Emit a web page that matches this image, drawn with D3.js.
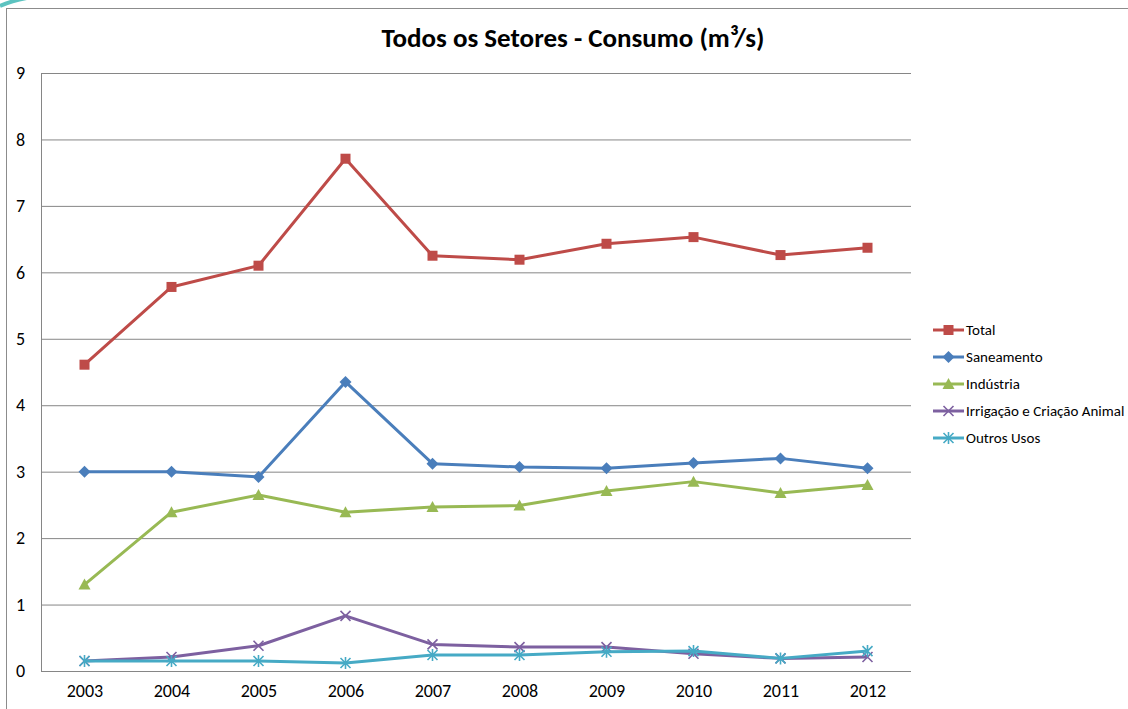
<!DOCTYPE html>
<html>
<head>
<meta charset="utf-8">
<script src="https://cdn.jsdelivr.net/npm/d3@7"></script>
<style>
  body { margin: 0; background: #fff; }
  svg { display: block; font-family: Calibri, Carlito, Lato, sans-serif; }
  .axis path, .axis line { stroke: #868686; }
  .axis text { fill: #000; font-size: 18px; }
  .grid line { stroke: #868686; }
  .grid path { stroke: none; }
</style>
</head>
<body>
<script>
var W = 1128, H = 709;
var margin = { top: 73, left: 41 },
    width = 870, height = 598;

var years = ["2003", "2004", "2005", "2006", "2007", "2008", "2009", "2010", "2011", "2012"];
var yTicks = [0, 1, 2, 3, 4, 5, 6, 7, 8, 9];

var total      = [4.61, 5.78, 6.10, 7.71, 6.25, 6.19, 6.43, 6.53, 6.26, 6.37];
var saneamento = [3.00, 3.00, 2.92, 4.35, 3.12, 3.07, 3.05, 3.13, 3.20, 3.05];
var industria  = [1.30, 2.39, 2.65, 2.39, 2.47, 2.49, 2.71, 2.85, 2.68, 2.80];
var irrigacao  = [0.15, 0.21, 0.38, 0.83, 0.40, 0.36, 0.36, 0.26, 0.19, 0.21];
var outros     = [0.15, 0.15, 0.15, 0.12, 0.24, 0.24, 0.29, 0.30, 0.19, 0.30];

var seriesNames = ["Total", "Saneamento", "Indústria", "Irrigação e Criação Animal", "Outros Usos"];
var seriesValues = [total, saneamento, industria, irrigacao, outros];
var colors = ["#BE4B48", "#4A7EBB", "#98B954", "#7D60A0", "#46AAC5"];
var markers = ["square", "diamond", "triangle", "x", "star"];

var series = seriesNames.map(function (n, i) {
    return { name: n, color: colors[i], marker: markers[i],
             values: seriesValues[i].map(function (v, j) { return { year: years[j], value: v }; }) };
});

var svg = d3.select("body").append("svg")
    .attr("width", W).attr("height", H);

// little corner decoration
svg.append("path")
    .attr("d", "M0,6 Q18,-2 42,-4")
    .attr("fill", "none")
    .attr("stroke", "#5CC3C0")
    .attr("stroke-width", 4);

// outer chart border
svg.append("rect")
    .attr("x", 6.5).attr("y", 8.5)
    .attr("width", W + 20).attr("height", H + 20)
    .attr("fill", "#fff")
    .attr("stroke", "#8c8c8c");

svg.append("text")
    .attr("x", 573).attr("y", 47)
    .attr("text-anchor", "middle")
    .style("font-size", "27px")
    .style("font-weight", "bold")
    .text("Todos os Setores - Consumo (m³/s)");

var g = svg.append("g")
    .attr("transform", "translate(" + margin.left + "," + margin.top + ")");

var xScale = d3.scalePoint()
    .domain(years)
    .range([0, width])
    .padding(0.5);
var yScale = d3.scaleLinear()
    .domain([0, 9])
    .range([height, 0]);

// gridlines
g.append("g")
    .attr("class", "grid")
    .call(d3.axisLeft(yScale).tickValues(yTicks).tickSize(-width).tickFormat(""));

// axes
g.append("g")
    .attr("class", "axis")
    .call(d3.axisLeft(yScale).tickValues(yTicks).tickSize(0).tickPadding(16));
g.append("g")
    .attr("class", "axis")
    .attr("transform", "translate(0," + height + ")")
    .call(d3.axisBottom(xScale).tickSize(0).tickPadding(13));
g.selectAll(".axis").attr("font-family", null).attr("font-size", null);
g.selectAll(".axis path").attr("d", function () {
    return d3.select(this.parentNode).attr("transform") ? "M0,0.5H" + width : "M0.5,0V" + height;
});

var line = d3.line()
    .x(function (d) { return xScale(d.year); })
    .y(function (d) { return yScale(d.value); });

function drawMarker(sel, type, color) {
    if (type === "square") {
        sel.append("rect").attr("x", -5).attr("y", -5).attr("width", 10).attr("height", 10).attr("fill", color);
    } else if (type === "diamond") {
        sel.append("path").attr("d", "M0,-6L6,0L0,6L-6,0Z").attr("fill", color);
    } else if (type === "triangle") {
        sel.append("path").attr("d", "M0,-6L6,5L-6,5Z").attr("fill", color);
    } else if (type === "x") {
        sel.append("path").attr("d", "M-5,-5L5,5M-5,5L5,-5").attr("stroke", color).attr("stroke-width", 1.6);
    } else {
        sel.append("path").attr("d", "M-5,-5L5,5M-5,5L5,-5M0,-6V6").attr("stroke", color).attr("stroke-width", 1.6);
    }
}

var s = g.selectAll(".series")
    .data(series)
    .enter().append("g")
    .attr("class", "series");

s.append("path")
    .attr("d", function (d) { return line(d.values); })
    .attr("fill", "none")
    .attr("stroke", function (d) { return d.color; })
    .attr("stroke-width", 3)
    .attr("stroke-linejoin", "round");

s.each(function (d) {
    d3.select(this).selectAll(".pt")
        .data(d.values)
        .enter().append("g")
        .attr("class", "pt")
        .attr("transform", function (p) { return "translate(" + xScale(p.year) + "," + yScale(p.value) + ")"; })
        .each(function () { drawMarker(d3.select(this), d.marker, d.color); });
});

// legend
var legend = svg.append("g")
    .attr("transform", "translate(933,330)");
var item = legend.selectAll(".item")
    .data(series)
    .enter().append("g")
    .attr("transform", function (d, i) { return "translate(0," + i * 27 + ")"; });
item.append("line")
    .attr("x1", 0).attr("x2", 31)
    .attr("stroke", function (d) { return d.color; })
    .attr("stroke-width", 3);
item.append("g")
    .attr("transform", "translate(15.5,0)")
    .each(function (d) { drawMarker(d3.select(this), d.marker, d.color); });
item.append("text")
    .attr("x", 33).attr("dy", "0.35em")
    .style("font-size", "15px")
    .text(function (d) { return d.name; });
</script>
</body>
</html>
